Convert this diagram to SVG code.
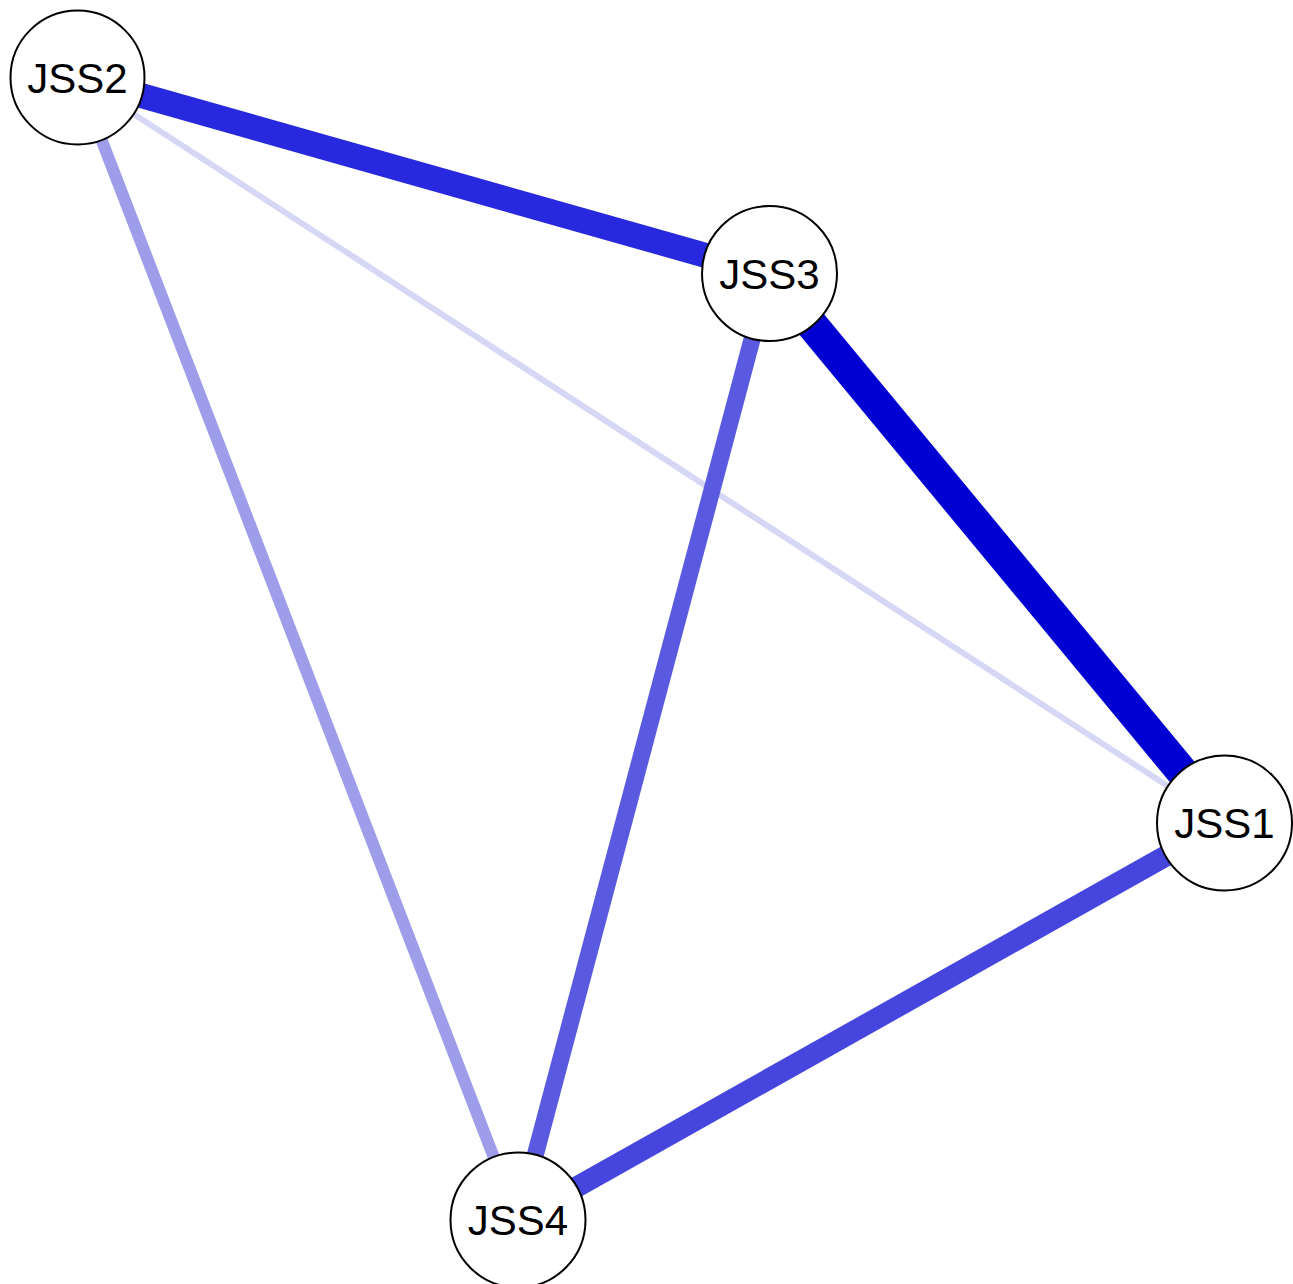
<svg xmlns="http://www.w3.org/2000/svg" width="1293" height="1284" viewBox="0 0 1293 1284">
<style>
.node circle{fill:#fff;stroke:#000;stroke-width:2}
.node text{font-family:"Liberation Sans",Arial,sans-serif;font-size:42px;text-anchor:middle;fill:#000}
</style>
<rect width="1293" height="1284" fill="#fff"/>
<g id="edges" fill="none">
<line x1="77.5" y1="77.5" x2="1224.5" y2="823" stroke="#d6d6f5" stroke-width="6"/>
<line x1="77.5" y1="77.5" x2="518" y2="1220" stroke="#9d9de9" stroke-width="12"/>
<line x1="769.5" y1="273.5" x2="518" y2="1220" stroke="#5a5ae0" stroke-width="17"/>
<line x1="1224.5" y1="823" x2="518" y2="1220" stroke="#4646df" stroke-width="21"/>
<line x1="77.5" y1="77.5" x2="769.5" y2="273.5" stroke="#2828de" stroke-width="25"/>
<line x1="769.5" y1="273.5" x2="1224.5" y2="823" stroke="#0000d2" stroke-width="32"/>
</g>
<g id="JSS2" class="node"><circle cx="77.5" cy="77.5" r="67"/><text x="77.5" y="92.5">JSS2</text></g>
<g id="JSS3" class="node"><circle cx="769.5" cy="273.5" r="67.5"/><text x="769.5" y="288.5">JSS3</text></g>
<g id="JSS1" class="node"><circle cx="1224.5" cy="823" r="67.5"/><text x="1224.5" y="838">JSS1</text></g>
<g id="JSS4" class="node"><circle cx="518" cy="1220" r="67.5"/><text x="518" y="1235">JSS4</text></g>
</svg>
